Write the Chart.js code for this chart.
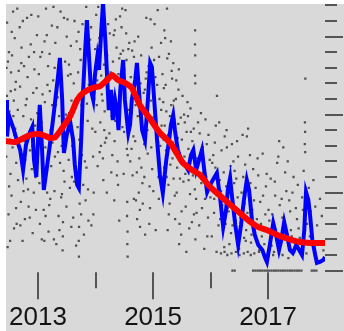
<!DOCTYPE html>
<html>
<head>
<meta charset="utf-8">
<script src="https://cdn.jsdelivr.net/npm/chart.js@4.4.0/dist/chart.umd.min.js"></script>
<style>
  html, body { margin: 0; padding: 0; background: #fff; }
  #wrap { position: absolute; left: 6px; top: 4px; width: 338px; height: 327px; background: #d9d9d9; }
  canvas { filter: blur(0.5px); }
</style>
</head>
<body>
<div id="wrap"><canvas id="chart" width="338" height="327"></canvas></div>
<script>
// smooth trend (red)
const trendYears = [2012.44, 2012.60, 2012.86, 2013.03, 2013.21, 2013.30, 2013.42, 2013.56, 2013.68, 2013.78,
  2013.94, 2014.08, 2014.20, 2014.29, 2014.39, 2014.51, 2014.63, 2014.77, 2014.95, 2015.12,
  2015.30, 2015.43, 2015.52, 2015.68, 2015.82, 2015.96, 2016.11, 2016.25, 2016.39, 2016.55,
  2016.69, 2016.83, 2016.98, 2017.12, 2017.26, 2017.42, 2017.56, 2017.73, 2017.99];
const trendValues = [8.31, 8.24, 8.69, 8.76, 8.50, 8.56, 9.14, 9.91, 10.94, 11.38,
  11.71, 11.83, 12.22, 12.54, 12.22, 12.03, 11.71, 10.62, 9.72, 8.82,
  8.18, 7.41, 6.90, 6.45, 6.13, 5.49, 4.97, 4.53, 4.08, 3.56,
  3.12, 2.79, 2.60, 2.35, 2.15, 1.96, 1.83, 1.77, 1.77];

// weekly series (blue)
const weekYears = [2012.44, 2012.46, 2012.48, 2012.51, 2012.57, 2012.62, 2012.69, 2012.74, 2012.79, 2012.84, 2012.90,
  2012.93, 2012.97, 2013.00, 2013.03, 2013.07, 2013.10, 2013.16, 2013.21, 2013.26, 2013.31,
  2013.35, 2013.38, 2013.42, 2013.45, 2013.50, 2013.56, 2013.61, 2013.64, 2013.68, 2013.71,
  2013.75, 2013.78, 2013.82, 2013.85, 2013.89, 2013.92, 2013.96, 2013.99, 2014.03, 2014.06,
  2014.10, 2014.13, 2014.17, 2014.20, 2014.23, 2014.27, 2014.30, 2014.34, 2014.37, 2014.40, 2014.43,
  2014.48, 2014.51, 2014.57, 2014.60, 2014.63, 2014.69, 2014.72, 2014.76, 2014.81, 2014.86,
  2014.91, 2014.95, 2014.98, 2015.02, 2015.07, 2015.12, 2015.17, 2015.23, 2015.28, 2015.31,
  2015.35, 2015.38, 2015.43, 2015.49, 2015.56, 2015.61, 2015.66, 2015.70, 2015.75, 2015.80,
  2015.85, 2015.89, 2015.94, 2015.99, 2016.04, 2016.11, 2016.17, 2016.22, 2016.27, 2016.30,
  2016.34, 2016.37, 2016.43, 2016.48, 2016.53, 2016.58, 2016.63, 2016.67, 2016.72, 2016.77,
  2016.83, 2016.90, 2016.95, 2016.98, 2017.03, 2017.09, 2017.14, 2017.19, 2017.23, 2017.28,
  2017.33, 2017.38, 2017.43, 2017.49, 2017.54, 2017.59, 2017.63, 2017.66, 2017.70, 2017.73,
  2017.77, 2017.82, 2017.85, 2017.90, 2017.96, 2017.99];
const weekValues = [10.94, 8.60, 9.33, 9.78, 9.14, 8.50, 7.73, 6.45, 8.05, 8.69, 9.21,
  7.09, 6.00, 8.37, 10.62, 7.73, 5.17, 6.77, 8.18, 9.65, 11.26,
  12.54, 13.63, 10.94, 7.54, 8.69, 9.53, 8.37, 6.77, 5.49, 5.29,
  8.37, 11.26, 14.14, 16.06, 13.50, 11.58, 10.94, 12.54, 13.69, 12.86,
  15.42, 17.15, 14.78, 12.54, 10.29, 11.58, 9.65, 10.94, 10.29, 9.00, 11.58,
  13.50, 10.94, 8.82, 9.33, 10.94, 12.22, 13.31, 11.26, 9.01, 8.37,
  10.94, 13.31, 13.05, 10.94, 8.37, 6.13, 4.97, 7.09, 8.37, 9.33,
  9.97, 9.01, 7.73, 7.09, 6.77, 6.45, 7.41, 7.73, 6.45, 7.09,
  7.73, 6.45, 5.04, 5.49, 5.81, 6.26, 4.53, 2.79, 3.88, 5.17,
  5.94, 4.85, 2.92, 1.64, 2.92, 4.53, 5.81, 5.17, 3.24, 2.28,
  1.64, 1.32, 0.81, 0.55, 1.64, 3.05, 2.28, 1.32, 1.96, 3.12,
  2.28, 1.32, 1.13, 1.64, 1.32, 1.00, 2.60, 5.04, 4.53, 3.56,
  1.96, 1.00, 0.49, 0.55, 0.68, 0.87];

// individual observations (grey dots): [year, value]
const observations = [
  [2012.462,15.9],[2012.531,12.7],[2012.448,7.3],[2012.604,9.1],[2012.487,3.6],[2012.566,16.6],[2012.459,11.2],[2012.652,5.8],
  [2012.512,8.4],[2012.713,14.3],[2012.583,2.7],[2012.476,13.4],[2012.744,9.9],[2012.621,6.9],[2012.809,16.2],[2012.539,4.8],
  [2012.688,11.8],[2012.861,7.7],[2012.595,14.9],[2012.772,3.3],[2012.503,10.2],[2012.937,12.9],[2012.667,8.1],[2012.826,5.2],
  [2012.455,9.6],[2012.981,15.1],[2012.731,1.9],[2012.614,12.1],[2012.892,6.5],[2012.548,13.8],[2012.785,10.6],[2012.963,3.9],
  [2012.639,16.8],[2012.849,8.9],[2012.521,6.2],[2012.916,11.4],[2012.701,4.4],[2012.578,10.9],[2012.994,7.0],[2012.757,13.1],
  [2012.471,1.5],[2012.873,14.5],[2012.629,3.0],[2012.949,9.3],[2012.681,15.6],[2012.818,12.4],[2012.557,7.9],[2012.907,2.4],
  [2012.724,6.8],[2012.494,14.0],[2012.836,4.1],[2012.975,11.7],[2012.648,10.3],[2012.797,5.9],[2012.883,16.4],[2012.588,8.7],
  [2012.926,5.0],[2012.709,13.3],[2012.526,11.5],[2012.764,8.3],
  [2012.452,13.0],[2012.497,5.4],[2012.543,15.3],[2012.571,9.9],[2012.618,4.0],[2012.664,12.8],[2012.693,2.9],[2012.736,16.0],
  [2012.779,7.1],[2012.803,11.0],[2012.856,3.4],[2012.879,9.7],[2012.931,14.0],[2012.956,6.0],[2012.987,10.1],[2012.515,1.9],
  [2012.601,11.6],[2012.747,5.1],[2012.841,13.7],[2012.902,8.0],
  [2013.014,12.6],[2013.087,6.3],[2013.152,15.1],[2013.033,3.0],[2013.219,9.0],[2013.071,14.0],[2013.286,5.1],[2013.118,10.8],
  [2013.004,16.3],[2013.347,7.6],[2013.183,2.5],[2013.262,12.2],[2013.049,8.4],[2013.402,4.7],[2013.139,16.8],[2013.318,1.7],
  [2013.205,11.5],[2013.471,13.4],[2013.024,5.6],[2013.366,9.9],[2013.241,15.7],[2013.098,3.9],[2013.533,7.1],[2013.164,11.9],
  [2013.427,1.3],[2013.431,2.2],[2013.434,3.1],[2013.301,14.6],[2013.061,9.5],[2013.588,6.0],[2013.195,4.2],[2013.379,12.9],
  [2013.512,16.1],[2013.127,7.9],[2013.649,10.4],[2013.276,2.0],[2013.456,8.8],[2013.041,13.7],[2013.612,3.4],[2013.229,6.7],
  [2013.704,15.3],[2013.341,11.1],[2013.554,5.3],[2013.711,0.9],[2013.708,1.9],[2013.713,2.8],[2013.174,13.1],[2013.487,10.0],
  [2013.763,7.4],[2013.392,16.6],[2013.621,12.0],[2013.251,8.2],[2013.826,4.5],[2013.109,1.9],[2013.571,14.4],[2013.445,6.4],
  [2013.688,9.2],[2013.892,13.9],[2013.311,10.6],[2013.749,3.6],[2013.521,12.5],[2013.957,7.3],[2013.634,16.0],[2013.416,4.9],
  [2013.803,11.4],[2013.148,8.6],[2013.928,2.9],[2013.676,6.2],[2013.499,15.0],[2013.863,9.6],[2013.357,3.5],[2013.741,13.5],
  [2013.979,11.0],[2013.598,8.0],[2013.838,16.9],[2013.461,5.7],[2013.906,14.8],[2013.724,4.3],[2013.289,13.0],[2013.786,5.5],
  [2013.944,9.1],[2013.662,1.6],[2013.079,11.3],[2013.876,3.2],[2013.542,10.1],[2013.993,14.2],[2013.815,7.0],[2013.383,6.9],
  [2013.917,12.3],[2013.579,2.8],[2013.697,12.7],[2013.968,5.0],[2013.851,10.7],[2013.213,4.6],[2013.774,15.8],
  [2013.019,9.8],[2013.066,2.0],[2013.113,14.7],[2013.158,5.0],[2013.201,13.9],[2013.246,10.6],[2013.294,7.3],[2013.336,15.6],
  [2013.372,2.6],[2013.409,11.4],[2013.451,16.2],[2013.494,4.1],[2013.538,13.2],[2013.582,10.9],[2013.627,5.7],[2013.671,14.7],
  [2013.718,8.4],[2013.757,10.6],[2013.798,2.3],[2013.842,6.6],[2013.884,11.9],[2013.923,15.6],[2013.962,3.6],[2013.996,8.9],
  [2013.131,3.5],[2013.268,16.9],[2013.413,8.0],[2013.566,12.6],[2013.733,14.2],[2013.869,5.2],
  [2014.012,16.4],[2014.083,9.5],[2014.147,13.2],[2014.036,6.7],[2014.219,15.8],[2014.108,11.3],[2014.291,7.4],[2014.058,14.4],
  [2014.173,12.3],[2014.354,16.1],[2014.241,8.8],[2014.021,10.6],[2014.412,13.6],[2014.135,5.8],[2014.316,15.1],[2014.196,11.9],
  [2014.468,9.2],[2014.067,14.9],[2014.383,7.0],[2014.262,12.7],[2014.521,16.7],[2014.159,10.2],[2014.437,13.9],[2014.094,8.0],
  [2014.334,15.4],[2014.489,6.2],[2014.208,11.6],[2014.571,14.2],[2014.279,9.9],[2014.047,16.9],[2014.398,12.6],[2014.545,7.8],
  [2014.123,10.9],[2014.452,15.6],[2014.303,13.4],[2014.186,8.5],[2014.512,11.7],[2014.372,6.1],[2014.587,14.6],[2014.229,10.4],
  [2014.426,16.3],[2014.098,12.5],[2014.559,7.4],[2014.343,9.6],[2014.478,14.1],[2014.251,11.0],[2014.533,15.2],[2014.164,8.2],
  [2014.391,5.5],[2014.501,12.9],[2014.325,4.5],[2014.551,4.4],[2014.548,3.5],[2014.556,2.5],[2014.553,1.7],[2014.558,0.9],
  [2014.412,3.2],[2014.196,5.0],
  [2014.029,12.2],[2014.072,7.6],[2014.116,16.0],[2014.152,9.0],[2014.203,13.8],[2014.247,15.2],[2014.287,11.2],[2014.331,8.3],
  [2014.366,14.3],[2014.419,10.0],[2014.463,16.8],[2014.497,8.9],[2014.538,13.5],[2014.578,10.3],[2014.274,6.3],[2014.128,7.2],
  [2014.613,12.4],[2014.689,8.3],[2014.742,15.0],[2014.631,10.1],[2014.815,5.6],[2014.668,13.7],[2014.901,9.0],[2014.723,3.3],
  [2014.858,11.6],[2014.604,7.0],[2014.957,16.1],[2014.781,12.0],[2014.644,6.1],[2015.034,9.6],[2014.703,4.5],[2014.922,13.1],
  [2014.771,3.9],[2014.774,2.8],[2015.089,8.2],[2014.836,11.4],[2014.679,14.7],[2014.985,6.5],[2015.142,10.3],[2014.752,5.0],
  [2014.889,12.7],[2015.061,8.9],[2014.862,2.3],[2014.626,7.8],[2015.177,10.8],[2014.947,4.0],[2014.805,9.2],[2015.018,13.5],
  [2014.718,6.3],[2015.113,11.0],[2014.934,3.0],[2014.658,8.6],[2014.873,12.3],[2015.154,5.4],[2014.996,9.8],[2014.761,7.2],
  [2015.072,11.9],[2014.821,4.3],[2015.126,8.0],[2014.975,14.3],[2014.695,10.6],[2015.193,6.6],[2014.908,7.5],[2015.047,2.6],
  [2014.849,6.0],[2015.164,12.6],[2014.733,9.9],[2015.005,5.1],[2015.101,4.6],[2014.961,10.9],[2015.185,8.4],[2015.027,15.8],
  [2015.081,16.7],[2015.139,14.6],[2015.196,15.4],[2015.242,16.8],[2015.276,13.9],[2015.211,14.9],[2014.883,16.2],[2015.104,13.7],
  [2014.637,14.1],[2014.711,11.2],[2014.793,13.8],[2014.846,8.1],[2014.913,11.9],[2014.969,7.9],[2015.041,12.4],[2015.095,6.0],
  [2015.148,9.3],[2015.188,11.7],[2014.667,4.6],[2014.797,6.6],[2014.940,5.4],
  [2015.203,9.3],[2015.274,3.6],[2015.338,7.2],[2015.219,11.9],[2015.411,5.0],[2015.262,8.7],[2015.489,2.3],[2015.317,10.6],
  [2015.236,6.0],[2015.552,9.5],[2015.352,13.3],[2015.288,4.3],[2015.615,7.8],[2015.397,11.0],[2015.247,13.6],[2015.468,5.9],
  [2015.331,12.3],[2015.676,3.1],[2015.427,8.5],[2015.539,10.0],[2015.301,6.8],[2015.748,4.6],[2015.371,9.7],[2015.592,6.5],
  [2015.454,1.7],[2015.811,8.8],[2015.513,11.2],[2015.268,5.5],[2015.651,10.4],[2015.384,3.3],[2015.873,6.3],[2015.476,7.0],
  [2015.707,9.1],[2015.226,7.7],[2015.568,4.1],[2015.934,8.1],[2015.442,11.6],[2015.629,2.7],[2015.361,10.9],[2015.789,6.9],
  [2015.497,3.8],[2015.972,5.3],[2015.667,7.5],[2015.324,12.8],[2015.851,4.0],[2015.583,8.9],[2015.419,6.6],[2015.736,2.0],
  [2015.912,9.7],[2015.528,5.7],[2015.694,6.1],[2015.254,2.6],[2015.833,10.1],[2015.607,9.9],[2015.461,3.0],[2015.768,7.2],
  [2015.956,3.4],[2015.643,4.9],[2015.891,1.4],[2015.344,8.2],[2015.726,5.2],[2015.501,8.4],[2015.985,7.1],[2015.802,2.9],
  [2015.561,6.2],[2015.378,4.8],[2015.923,6.0],[2015.683,8.3],[2015.839,5.6],[2015.439,9.4],[2015.756,3.7],[2015.998,4.7],
  [2015.619,5.8],[2015.866,7.9],[2015.293,9.9],[2015.944,2.2],[2015.711,3.6],[2015.579,1.2],
  [2015.731,15.4],[2015.729,14.5],[2015.733,13.8],[2015.731,12.5],[2015.734,12.0],[2015.448,12.9],[2015.311,14.7],
  [2015.231,10.2],[2015.306,8.1],[2015.357,5.9],[2015.404,12.2],[2015.482,9.8],[2015.545,7.3],[2015.599,10.8],[2015.658,8.9],
  [2015.719,7.0],[2015.782,9.5],[2015.857,7.5],[2015.903,4.6],[2015.964,8.7],
  [2016.013,5.5],[2016.074,8.2],[2016.138,2.9],[2016.029,6.9],[2016.202,4.2],[2016.091,9.3],[2016.263,3.0],[2016.047,7.4],
  [2016.159,5.8],[2016.327,1.7],[2016.112,11.2],[2016.229,6.3],[2016.389,4.5],[2016.061,3.7],[2016.151,9.5],[2016.284,7.9],
  [2016.452,2.5],[2016.183,5.1],[2016.348,6.7],[2016.517,3.4],[2016.104,1.2],[2016.246,8.6],[2016.411,5.6],[2016.583,2.1],
  [2016.297,4.0],[2016.478,7.3],[2016.022,2.2],[2016.641,3.7],[2016.213,2.6],[2016.372,8.1],[2016.539,5.0],[2016.703,1.8],
  [2016.125,6.2],[2016.434,3.2],[2016.602,6.8],[2016.767,2.9],[2016.271,5.4],[2016.496,1.4],[2016.662,4.8],[2016.829,6.1],
  [2016.356,2.4],[2016.557,8.7],[2016.724,3.9],[2016.891,2.2],[2016.191,7.7],[2016.418,6.4],[2016.619,2.6],[2016.783,5.3],
  [2016.953,3.6],[2016.314,3.8],[2016.471,4.7],[2016.685,7.4],[2016.847,1.3],[2016.064,4.6],[2016.525,2.8],[2016.741,6.5],
  [2016.913,4.8],[2016.238,1.5],[2016.397,7.0],[2016.591,4.3],[2016.806,3.3],[2016.976,6.2],[2016.167,3.3],[2016.447,5.9],
  [2016.653,9.1],[2016.632,8.6],[2016.864,4.4],[2016.906,7.5],[2016.338,5.9],[2016.568,6.0],[2016.712,2.3],[2016.935,1.7],
  [2016.279,9.0],[2016.503,3.7],[2016.755,4.5],[2016.991,2.5],[2016.084,6.6],[2016.461,8.3],[2016.693,5.6],[2016.876,3.0],
  [2016.382,2.9],[2016.612,1.9],[2016.818,7.2],[2016.963,5.4],
  [2016.181,1.1],[2016.243,1.2],[2016.292,1.0],[2016.364,1.1],[2016.441,1.2],[2016.503,1.0],[2016.578,1.1],[2016.645,1.2],
  [2016.699,1.0],[2016.761,1.1],[2016.842,1.2],[2016.921,1.1],[2017.012,1.0],[2017.103,1.2],[2017.193,1.1],[2017.252,1.0],
  [2017.008,3.9],[2017.061,1.6],[2017.117,5.7],[2017.034,2.5],[2017.178,7.3],[2017.089,1.0],[2017.236,4.6],[2017.141,2.0],
  [2017.297,6.3],[2017.022,3.2],[2017.353,0.8],[2017.203,4.2],[2017.412,2.2],[2017.265,7.9],[2017.073,3.6],[2017.474,1.4],
  [2017.318,5.1],[2017.158,6.9],[2017.531,2.7],[2017.384,3.8],[2017.046,5.9],[2017.592,4.7],[2017.443,6.0],[2017.228,1.9],
  [2017.648,12.3],[2017.641,9.5],[2017.644,8.9],[2017.639,8.1],[2017.646,7.6],[2017.503,3.3],[2017.279,2.9],[2017.707,5.3],
  [2017.568,1.8],[2017.368,4.5],[2017.763,2.4],[2017.619,6.4],[2017.456,1.2],[2017.821,4.1],[2017.193,8.3],[2017.679,3.0],
  [2017.342,7.0],[2017.877,1.7],[2017.726,2.2],[2017.517,5.5],[2017.935,3.5],[2017.789,5.8],[2017.396,2.6],[2017.608,3.9],
  [2017.852,2.9],[2017.124,4.8],[2017.667,1.1],[2017.483,4.0],[2017.903,4.6],[2017.249,3.4],[2017.743,3.8],[2017.551,2.1],
  [2017.962,1.3],[2017.309,2.3],[2017.803,1.5],[2017.424,5.0],
  // zero readings
  [2016.38,0],[2016.42,0],[2016.74,0],[2016.78,0],[2016.82,0],[2016.86,0],[2016.90,0],[2016.94,0],
  [2016.98,0],[2017.02,0],[2017.06,0],[2017.10,0],[2017.14,0],[2017.18,0],[2017.22,0],[2017.26,0],
  [2017.30,0],[2017.34,0],[2017.38,0],[2017.42,0],[2017.46,0],[2017.50,0],[2017.54,0],[2017.58,0],
  [2017.76,0],[2017.80,0],[2017.84,0]
];

// axis furniture
const yearLabels = [2013, 2015, 2017];
const yearTicks = [2013, 2014, 2015, 2016, 2017];
const valueTicks = [0, 1, 2, 3, 4, 5, 6, 7, 8, 9, 10, 11, 12, 13, 14, 15, 16, 17];

const axisMarks = {
    id: 'axisMarks',
    afterDraw(chart) {
        const { ctx, chartArea, scales } = chart;
        ctx.save();
        ctx.strokeStyle = '#555555';
        ctx.lineWidth = 2;
        // right-hand ticks, longer every fifth
        valueTicks.forEach((v) => {
            const y = Math.round(scales.y.getPixelForValue(v));
            const len = v % 5 === 0 ? 18 : 12;
            ctx.beginPath();
            ctx.moveTo(chartArea.right, y);
            ctx.lineTo(chartArea.right + len, y);
            ctx.stroke();
        });
        // bottom ticks
        yearTicks.forEach((yr) => {
            const x = Math.round(scales.x.getPixelForValue(yr));
            const len = yearLabels.includes(yr) ? 27 : 16;
            ctx.beginPath();
            ctx.moveTo(x, chartArea.bottom);
            ctx.lineTo(x, chartArea.bottom + len);
            ctx.stroke();
        });
        ctx.fillStyle = '#141414';
        ctx.font = '26px "Liberation Sans", Arial, sans-serif';
        ctx.textAlign = 'center';
        ctx.textBaseline = 'alphabetic';
        yearLabels.forEach((yr) => {
            ctx.fillText(String(yr), scales.x.getPixelForValue(yr), chartArea.bottom + 53);
        });
        ctx.restore();
    }
};

const toPoints = (xs, ys) => xs.map((x, i) => ({ x, y: ys[i] }));

new Chart(document.getElementById('chart').getContext('2d'), {
    type: 'scatter',
    data: {
        datasets: [{
            label: 'trend',
            data: toPoints(trendYears, trendValues),
            showLine: true,
            borderColor: '#ff0000',
            borderWidth: 6,
            pointRadius: 0,
            tension: 0.2,
            order: 1
        }, {
            label: 'weekly',
            data: toPoints(weekYears, weekValues),
            showLine: true,
            borderColor: '#0000ff',
            borderWidth: 4,
            pointRadius: 0,
            tension: 0,
            order: 2
        }, {
            label: 'observations',
            data: observations.map(([x, y]) => ({ x, y })),
            pointStyle: 'rect',
            pointRadius: 1.6,
            backgroundColor: '#505050',
            borderWidth: 0,
            order: 3
        }]
    },
    options: {
        responsive: false,
        animation: false,
        devicePixelRatio: 1,
        events: [],
        layout: { autoPadding: false, padding: { left: 0, top: 0, right: 19, bottom: 58.84 } },
        scales: {
            x: { type: 'linear', min: 2012.443, max: 2017.99, display: false },
            y: { type: 'linear', min: -0.1, max: 17.09, display: false }
        },
        plugins: {
            legend: { display: false },
            tooltip: { enabled: false }
        }
    },
    plugins: [axisMarks]
});
</script>
</body>
</html>
